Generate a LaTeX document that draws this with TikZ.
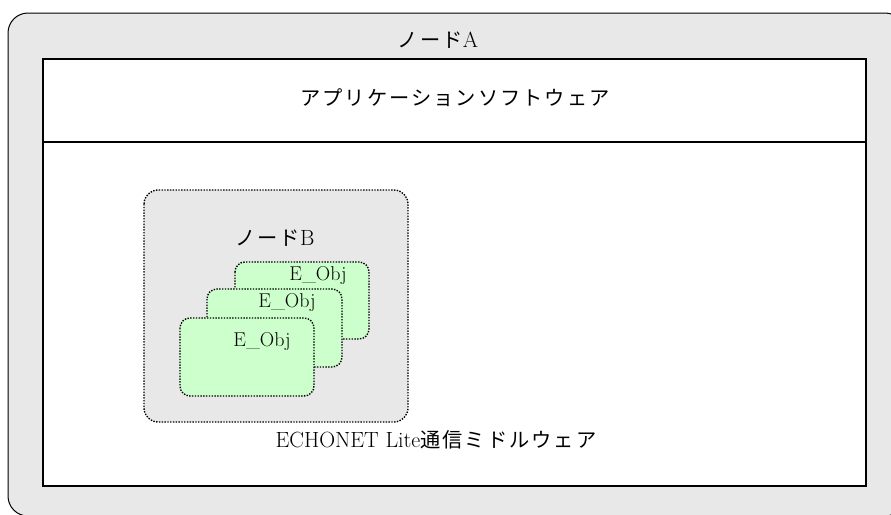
\documentclass[tikz,border=0pt]{standalone}
\usepackage{fontspec}
\newfontfamily\jp{Noto Sans CJK JP}[Scale=0.92, LetterSpace=10]
\definecolor{panelgray}{HTML}{E8E8E8}
\definecolor{objgreen}{HTML}{CCFFCC}
\tikzset{
  dotline/.style={draw, line width=1.4pt, dash pattern=on 1.4pt off 1.4pt},
  nodebox/.style={dotline, fill=panelgray, rounded corners=14pt},
  objbox/.style={dotline, fill=objgreen, rounded corners=10pt},
  lbl/.style={font=\fontsize{22}{26}\selectfont, inner sep=0pt},
  objlbl/.style={font=\fontsize{20}{24}\selectfont, inner sep=0pt},
}
\begin{document}
\begin{tikzpicture}[x=1pt, y=-1pt]
    \useasboundingbox (0,0) rectangle (891,514);
    \clip (0,0) rectangle (891,514);
    % outer frame and layers
    \draw[fill=panelgray, line width=1pt, rounded corners=20pt] (8,13) rectangle (905,516);
    \draw[fill=white, line width=1.3pt] (43,59) rectangle (866,486);
    \draw[line width=2pt] (43,142) -- (866,142);

    \node[lbl] (nodeA) at (438,40) {{\jp ノード}A};
    \node[lbl] (app) at (455,98) {\jp アプリケーションソフトウェア};

    % node B with its objects
    \draw[nodebox] (144,190) rectangle (408,422);
    \node[lbl] (nodeB) at (275,238) {{\jp ノード}B};
    \draw[objbox] (235,262) rectangle (369,339);
    \draw[objbox] (207,289) rectangle (342,367);
    \draw[objbox] (180,318) rectangle (314,396);
    \node[objlbl] (obj3) at (318,276) {E\_Obj};
    \node[objlbl] (obj2) at (287,303) {E\_Obj};
    \node[objlbl] (obj1) at (262,342) {E\_Obj};

    \node[lbl] (mw) at (436,440) {ECHONET Lite{\jp 通信ミドルウェア}};
\end{tikzpicture}
\end{document}
